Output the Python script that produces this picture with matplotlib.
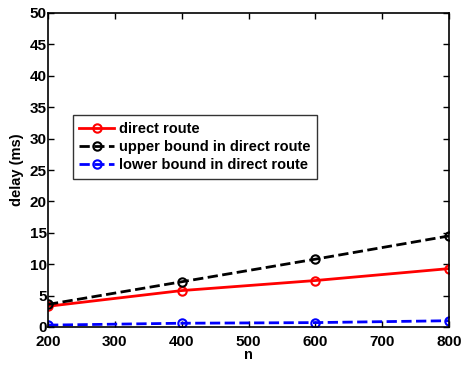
import matplotlib
matplotlib.use("Agg")
import matplotlib.pyplot as plt

n = [200, 400, 600, 800]
direct = [3.3, 5.8, 7.4, 9.3]
upper = [3.6, 7.2, 10.8, 14.5]
lower = [0.3, 0.6, 0.7, 1.0]
xticks = [200, 300, 400, 500, 600, 700, 800]
yticks = list(range(0, 51, 5))

plt.rcParams['font.family'] = ['Liberation Sans', 'DejaVu Sans']
plt.rcParams['font.weight'] = 'bold'

fig = plt.figure(figsize=(4.62, 3.65), dpi=100)
ax = fig.add_axes([48/462, 1-327/365, (449-48)/462, (327-13)/365])

ax.plot(n, direct, '-o', color='#ff0000', lw=2, mfc='none', mec='#ff0000', ms=6, mew=1.5, label='direct route')
ax.plot(n, upper, '--o', color='black', lw=2, mfc='none', mec='black', ms=6, mew=1.5, label='upper bound in direct route')
ax.plot(n, lower, '--o', color='#0000ff', lw=2, mfc='none', mec='#0000ff', ms=6, mew=1.5, label='lower bound in direct route')

ax.set_xlim(200, 800)
ax.set_ylim(0, 50)
ax.set_xticks(xticks)
ax.set_yticks(yticks)
ax.tick_params(direction='in', top=True, right=True, labelsize=11, length=4, width=1)
ax.tick_params(axis='x', pad=6)
ax.tick_params(axis='y', pad=1)
for lab in ax.get_xticklabels() + ax.get_yticklabels():
    lab.set_fontweight('bold')
for s in ax.spines.values():
    s.set_linewidth(1.2)
ax.set_xlabel('n', fontsize=10.5, fontweight='bold', labelpad=-1)
ax.set_ylabel('delay (ms)', fontsize=10.5, fontweight='bold', labelpad=4)

leg = ax.legend(loc='upper left', bbox_to_anchor=(0.062, 0.675), fontsize=10.5, frameon=True,
                fancybox=False, edgecolor='black', borderaxespad=0, handlelength=2.4,
                handletextpad=0.3, borderpad=0.45, labelspacing=0.3)
leg.get_frame().set_linewidth(1)
for t in leg.get_texts():
    t.set_fontweight('bold')

fig.savefig('out.png', dpi=100)
